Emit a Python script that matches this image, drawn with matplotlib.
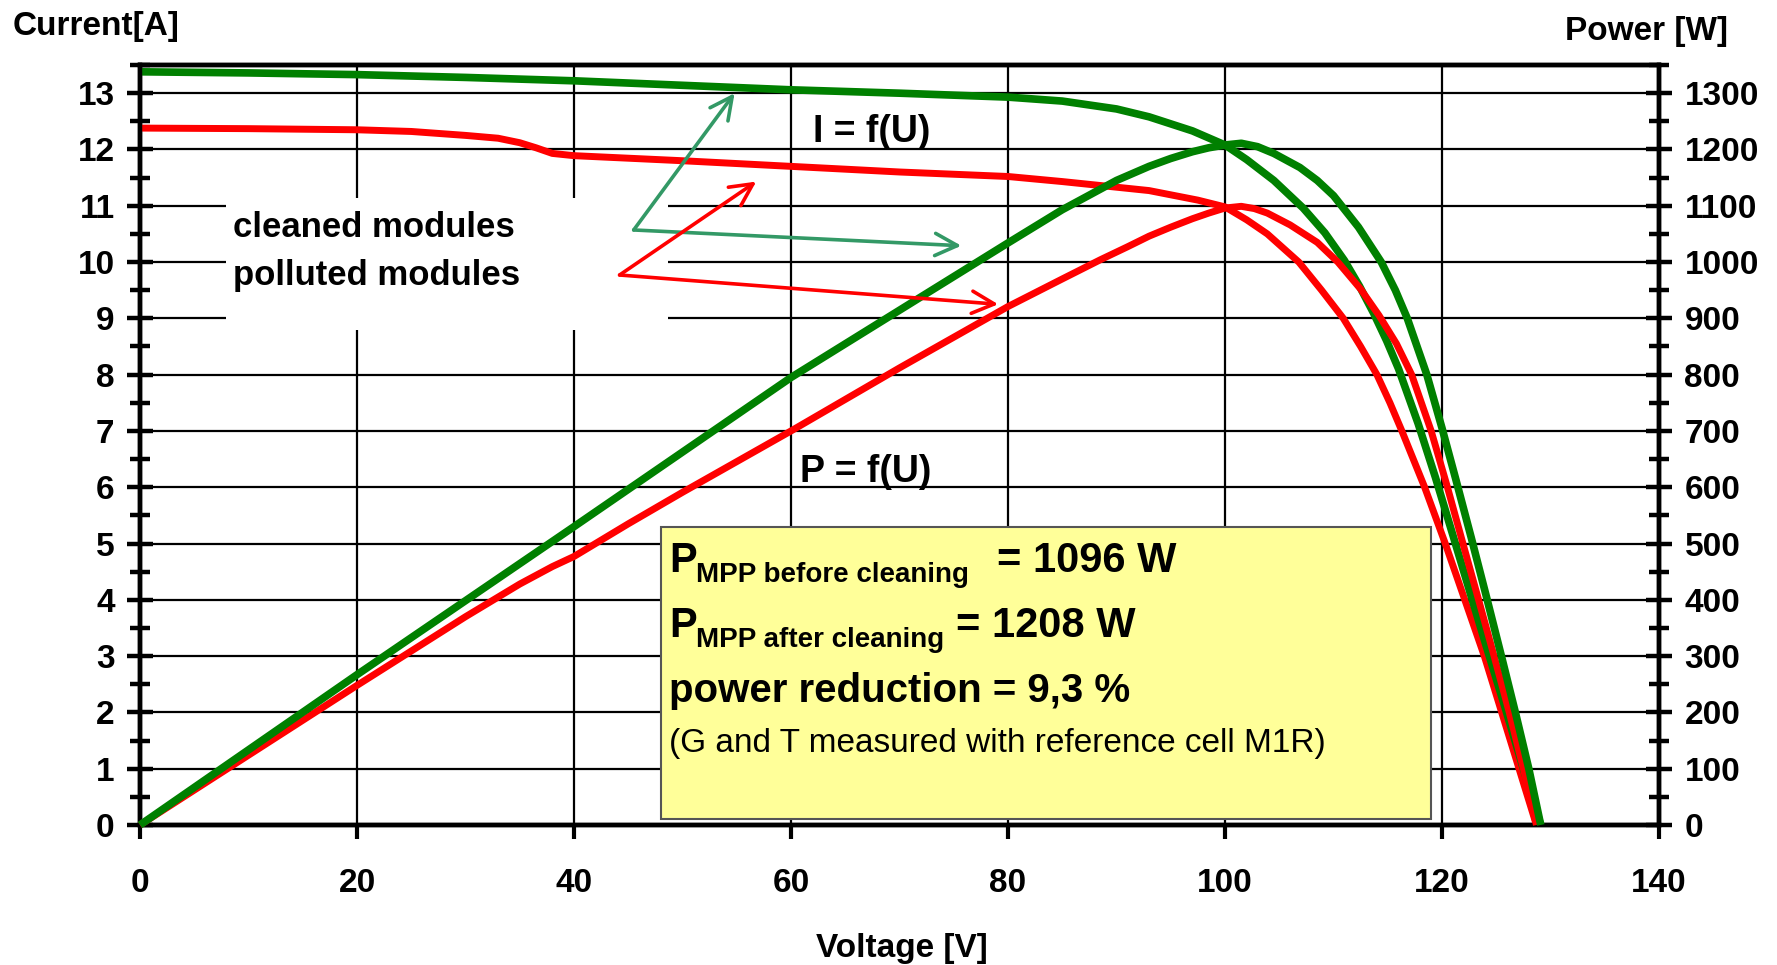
import matplotlib
matplotlib.use("Agg")
import matplotlib.pyplot as plt
from matplotlib.patches import Rectangle
from matplotlib.ticker import MultipleLocator

plt.rcParams['font.family'] = ['Liberation Sans', 'DejaVu Sans']
plt.rcParams['font.weight'] = 'bold'

# cleaned modules (green) - I = f(U)
u_clean_i = [0, 10, 20, 30, 40, 50, 60, 70, 80, 85, 90, 93, 97, 100, 102, 104.5, 107.2,
             109.2, 111.0, 112.4, 113.7, 114.9, 116.0, 117.8, 119.4, 121.0, 122.6, 124.2,
             125.9, 127.5, 129.1]
i_clean = [13.38, 13.36, 13.33, 13.28, 13.22, 13.14, 13.06, 13.00, 12.93, 12.86, 12.72,
           12.58, 12.33, 12.08, 11.82, 11.45, 10.96, 10.52, 10.03, 9.57, 9.09, 8.60, 8.10,
           7.13, 6.17, 5.15, 4.12, 3.10, 2.03, 1.00, 0.00]

# cleaned modules (green) - P = f(U)
u_clean_p = [0, 20, 40, 60, 80, 85, 90, 93, 95, 97, 98.5, 100, 101.5, 103, 104.5, 106.9,
             108.5, 110, 112.3, 114.4, 115.7, 116.8, 118.6, 120.0, 121.3, 122.7, 124.1,
             125.5, 126.8, 128.0, 129.1]
p_clean = [0, 267, 530, 795, 1034, 1093, 1145, 1170, 1184, 1196, 1203, 1208, 1211, 1205,
           1193, 1168, 1145, 1118, 1062, 1000, 950, 900, 800, 705, 612, 510, 405, 298, 197,
           100, 0]

# polluted modules (red) - I = f(U)
u_poll_i = [0, 10, 20, 25, 30, 33, 35, 36.5, 38, 40, 50, 60, 70, 80, 85, 88.5, 93, 97.5,
            100, 102, 103.9, 106.8, 108.9, 110.9, 112.5, 114.0, 115.2, 116.3, 118.4, 120.3,
            122.1, 123.9, 125.5, 127.1, 128.7]
i_poll = [12.38, 12.37, 12.35, 12.32, 12.25, 12.20, 12.12, 12.03, 11.93, 11.89, 11.80,
          11.70, 11.60, 11.52, 11.43, 11.36, 11.27, 11.10, 10.98, 10.75, 10.50, 10.00, 9.50,
          9.00, 8.50, 8.00, 7.50, 7.00, 6.00, 5.00, 4.00, 3.00, 2.00, 1.00, 0.00]

# polluted modules (red) - P = f(U)
u_poll_p = [0, 20, 30, 35, 38, 40, 45, 50, 60, 70, 80, 85, 88.5, 91, 93, 95, 97, 98.5, 100,
            101.5, 102.7, 103.9, 106, 108.5, 110.4, 112.5, 114.2, 115.8, 117.2, 119.0, 120.5,
            121.9, 123.4, 124.8, 126.2, 127.5, 128.7]
p_poll = [0, 248, 370, 428, 459, 477, 535, 591, 700, 812, 921, 970, 1004, 1027, 1046, 1062,
          1077, 1087, 1096, 1099, 1095, 1087, 1066, 1035, 1000, 952, 905, 855, 800, 700, 600,
          502, 398, 300, 200, 100, 0]

x_ticks = [0, 20, 40, 60, 80, 100, 120, 140]
i_ticks = list(range(0, 14))
p_ticks = list(range(0, 1301, 100))

GREEN = '#008000'
RED = '#ff0000'
ARROW_GREEN = '#339966'

fig = plt.figure(figsize=(17.77, 9.65), dpi=100)
ax = fig.add_axes([0.0788, 0.1451, 0.8548, 0.7875])
ax2 = ax.twinx()

ax.set_xlim(0, 140)
ax.set_ylim(0, 13.5)
ax2.set_ylim(0, 1350)

ax.set_xticks(x_ticks)
ax.set_yticks(i_ticks)
ax.yaxis.set_minor_locator(MultipleLocator(0.5))
ax2.set_yticks(p_ticks)
ax2.yaxis.set_minor_locator(MultipleLocator(50))

ax.set_axisbelow(True)
ax.grid(True, which='major', color='black', linewidth=1.6)

for a in (ax, ax2):
    for s in a.spines.values():
        s.set_linewidth(3.2)
        s.set_color('black')

ax.tick_params(axis='x', which='major', direction='out', length=10, width=3,
               labelsize=24, pad=21, top=False)
ax.tick_params(axis='y', which='major', direction='inout', length=18.7, width=3.2,
               labelsize=24, pad=9, right=False)
ax.tick_params(axis='y', which='minor', direction='inout', length=15, width=3.2, right=False)
ax2.tick_params(axis='y', which='major', direction='inout', length=18.7, width=3.2,
                labelsize=24, pad=9)
ax2.tick_params(axis='y', which='minor', direction='inout', length=15, width=3.2)

# curves
ax.plot(u_poll_i, i_poll, color=RED, lw=5.0, solid_capstyle='butt', zorder=3, clip_on=False)
ax.plot(u_clean_i, i_clean, color=GREEN, lw=5.5, solid_capstyle='butt', zorder=3, clip_on=False)
ax2.plot(u_poll_p, p_poll, color=RED, lw=5.0, solid_capstyle='butt', zorder=3, clip_on=False)
ax2.plot(u_clean_p, p_clean, color=GREEN, lw=5.5, solid_capstyle='butt', zorder=3, clip_on=False)

tr = ax.transData

# white patch behind the module labels
ax2.add_patch(Rectangle((7.9, 8.79), 40.8, 2.35, facecolor='white', edgecolor='none',
                        transform=tr, zorder=1))
ax2.text(8.6, 10.44, 'cleaned modules', fontsize=25, transform=tr, va='baseline', zorder=5)
ax2.text(8.6, 9.59, 'polluted modules', fontsize=25, transform=tr, va='baseline', zorder=5)

# arrows
def arrow(tip, tail, color):
    ax2.annotate('', xy=tip, xytext=tail, xycoords=tr, textcoords=tr,
                 arrowprops=dict(arrowstyle='->', color=color, lw=2.6, shrinkA=0,
                                 shrinkB=0, mutation_scale=40), zorder=6)

arrow((54.8, 13.0), (45.5, 10.57), ARROW_GREEN)
arrow((75.7, 10.29), (45.5, 10.57), ARROW_GREEN)
arrow((56.8, 11.43), (44.2, 9.77), RED)
arrow((79.1, 9.25), (44.2, 9.77), RED)

ax2.text(62.0, 12.14, 'I = f(U)', fontsize=27, transform=tr, va='baseline', zorder=5)
ax2.text(60.8, 6.10, 'P = f(U)', fontsize=27, transform=tr, va='baseline', zorder=5)

# result box
ax2.add_patch(Rectangle((48.0, 0.107), 71.0, 5.18, facecolor='#ffff99', edgecolor='#555555',
                        lw=1.5, transform=tr, zorder=4))
ax2.text(48.76, 4.49, 'P', fontsize=30, transform=tr, va='baseline', zorder=5)
ax2.text(51.24, 4.32, 'MPP before cleaning', fontsize=20, transform=tr, va='baseline', zorder=5)
ax2.text(79.0, 4.49, '= 1096 W', fontsize=30, transform=tr, va='baseline', zorder=5)
ax2.text(48.76, 3.34, 'P', fontsize=30, transform=tr, va='baseline', zorder=5)
ax2.text(51.24, 3.16, 'MPP after cleaning', fontsize=20, transform=tr, va='baseline', zorder=5)
ax2.text(75.2, 3.34, '= 1208 W', fontsize=30, transform=tr, va='baseline', zorder=5)
ax2.text(48.76, 2.18, 'power reduction = 9,3 %', fontsize=29, transform=tr,
         va='baseline', zorder=5)
ax2.text(48.76, 1.30, '(G and T measured with reference cell M1R)', fontsize=24,
         fontweight='normal', transform=tr, va='baseline', zorder=5)

# axis titles
fig.text(13 / 1777, 1 - 35 / 965, 'Current[A]', fontsize=24, ha='left', va='baseline')
fig.text(1728 / 1777, 1 - 40 / 965, 'Power [W]', fontsize=24, ha='right', va='baseline')
fig.text(902 / 1777, 1 - 957 / 965, 'Voltage [V]', fontsize=24, ha='center', va='baseline')

fig.savefig('out.png', dpi=100)
